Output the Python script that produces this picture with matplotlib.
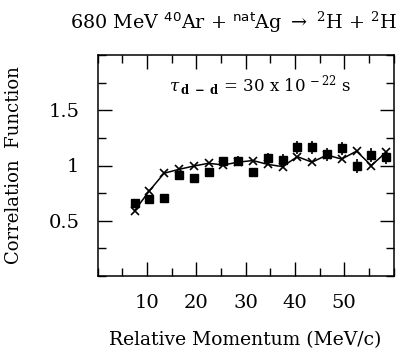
import numpy as np
import matplotlib.pyplot as plt
from matplotlib.ticker import MultipleLocator, FixedLocator

plt.rcParams['font.family'] = 'DejaVu Serif'
plt.rcParams['mathtext.fontset'] = 'dejavuserif'

# relative momentum bins (MeV/c)
q = [7.5, 10.5, 13.5, 16.5, 19.5, 22.5, 25.5, 28.5, 31.5,
     34.5, 37.5, 40.5, 43.5, 46.5, 49.5, 52.5, 55.5, 58.5]
# measured d-d correlation
c_data = [0.66, 0.70, 0.71, 0.915, 0.89, 0.94, 1.04, 1.045, 0.94,
          1.065, 1.05, 1.165, 1.165, 1.10, 1.155, 0.995, 1.095, 1.075]
c_err = [0.03, 0.03, 0.03, 0.03, 0.03, 0.03, 0.04, 0.04, 0.04,
         0.05, 0.05, 0.06, 0.06, 0.06, 0.06, 0.06, 0.06, 0.06]
# model, tau = 30e-22 s
c_model = [0.59, 0.77, 0.93, 0.965, 0.995, 1.02, 1.005, 1.03, 1.045,
           1.01, 0.99, 1.08, 1.03, 1.095, 1.058, 1.13, 1.0, 1.12]

fig = plt.figure(figsize=(4.03, 3.6), dpi=100)
ax = fig.add_axes([97.5 / 403, 1 - 276 / 360, 296 / 403, 221 / 360])

ax.plot(q, c_model, color='black', lw=1.1, marker='x', ms=6, mew=1.2)
ax.errorbar(q, c_data, yerr=c_err, fmt='s', color='black', ms=6,
            elinewidth=1.2, capsize=0)

ax.set_xlim(0, 60)
ax.set_ylim(0, 2)
ax.xaxis.set_major_locator(FixedLocator([10, 20, 30, 40, 50]))
ax.xaxis.set_minor_locator(MultipleLocator(5))
ax.yaxis.set_major_locator(FixedLocator([0.5, 1, 1.5]))
ax.yaxis.set_minor_locator(MultipleLocator(0.25))
ax.set_yticklabels(['0.5', '1', '1.5'])
ax.tick_params(which='both', direction='in', top=True, right=True,
               labelsize=14, pad=13)
ax.tick_params(which='major', length=10, width=1)
ax.tick_params(which='minor', length=6, width=1)
for s in ax.spines.values():
    s.set_linewidth(1.1)

ax.set_xlabel('Relative Momentum (MeV/c)', fontsize=13.5, labelpad=14)
ax.set_ylabel('Correlation  Function', fontsize=13, labelpad=18)

ax.text(14.5, 1.72, r'$\tau_{\,\mathsf{\mathbf{d\ -\ d}}}$ = 30 x 10$^{\,-22}$ s',
        fontsize=12, va='center')

fig.text(0.985, 0.939,
         r'680 MeV $^{\mathsf{40}}$Ar + $^{\mathsf{nat}}$Ag $\rightarrow$ $^{2}$H + $^{2}$H',
         fontsize=13.8, ha='right', va='center')

fig.savefig('out.png', dpi=100)
